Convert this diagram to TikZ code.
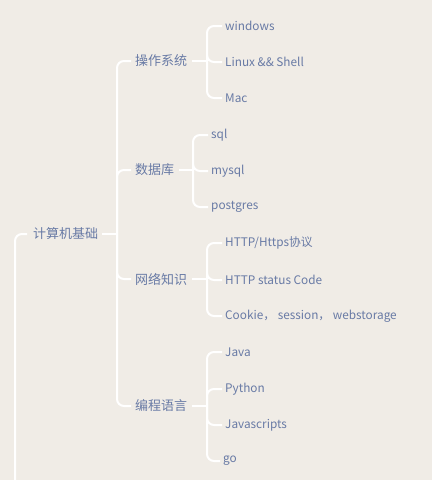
\documentclass[tikz,border=0pt]{standalone}
\usepackage{fontspec}
\setmainfont{Noto Sans CJK SC}
\definecolor{bg}{RGB}{240,236,230}
\definecolor{txt}{RGB}{104,122,165}
\begin{document}
\begin{tikzpicture}[x=1pt,y=-1pt,
  lvl/.style={anchor=west,inner sep=2pt,text=txt,font=\fontsize{13}{15}\selectfont},
  leaf/.style={anchor=west,inner sep=2pt,text=txt,font=\fontsize{11.8}{13}\selectfont},
  conn/.style={draw=white,line width=2pt,rounded corners=7pt}]
\fill[bg] (0,0) rectangle (432,480);
\useasboundingbox (0,0) rectangle (432,480);
% root
\node[lvl] (root) at (31,234) {计算机基础};
\coordinate (rin) at (15,482);
\draw[conn] (rin) |- ([xshift=-4pt]root.west);
\coordinate (h0) at (117,234);
\draw[conn] ([xshift=2pt]root.east) -- (h0);
% level 1
\node[lvl] (os) at (133,61) {操作系统};
\node[lvl] (db) at (133,170) {数据库};
\node[lvl] (net) at (133,279) {网络知识};
\node[lvl] (lang) at (133,406) {编程语言};
\foreach \n in {os,db,net,lang} \draw[conn] (h0) |- ([xshift=-2pt]\n.west);
% os leaves
\coordinate (h1) at (207,61);
\draw[conn] ([xshift=3pt]os.east) -- (h1);
\node[leaf] (win) at (223,26) {windows};
\node[leaf] (lin) at (223,62) {Linux \&\& Shell};
\node[leaf] (mac) at (223,98) {Mac};
\foreach \n in {win,lin,mac} \draw[conn] (h1) |- ([xshift=-1pt]\n.west);
% db leaves
\coordinate (h2) at (193,170);
\draw[conn] ([xshift=3pt]db.east) -- (h2);
\node[leaf] (sql) at (209,135) {sql};
\node[leaf] (mysql) at (209,171) {mysql};
\node[leaf] (pg) at (209,207) {postgres};
\foreach \n in {sql,mysql,pg} \draw[conn] (h2) |- ([xshift=-1pt]\n.west);
% net leaves
\coordinate (h3) at (207,279);
\draw[conn] ([xshift=3pt]net.east) -- (h3);
\node[leaf] (http) at (223,243) {HTTP/Https协议};
\node[leaf] (code) at (223,280) {HTTP status Code};
\node[leaf] (cook) at (223,316) {Cookie， session， webstorage};
\foreach \n in {http,code,cook} \draw[conn] (h3) |- ([xshift=-1pt]\n.west);
% lang leaves
\coordinate (h4) at (207,406);
\draw[conn] ([xshift=3pt]lang.east) -- (h4);
\node[leaf] (java) at (223,352) {Java};
\node[leaf] (py) at (223,389) {Python};
\node[leaf] (js) at (223,425) {Javascripts};
\node[leaf] (go) at (221,461) {go};
\foreach \n in {java,py,js,go} \draw[conn] (h4) |- ([xshift=-1pt]\n.west);
\end{tikzpicture}
\end{document}
